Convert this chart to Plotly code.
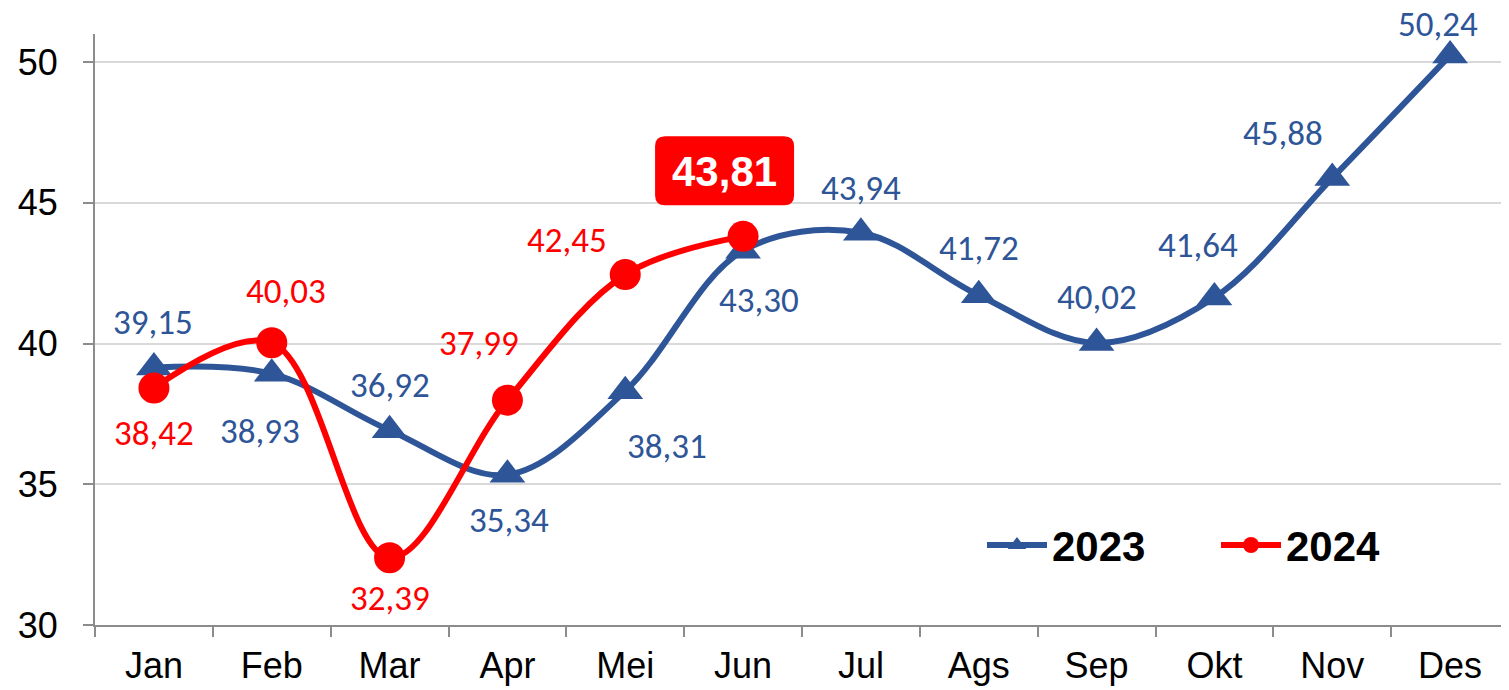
import plotly.graph_objects as go

months = ["Jan", "Feb", "Mar", "Apr", "Mei", "Jun", "Jul", "Ags", "Sep", "Okt", "Nov", "Des"]
vals_2023 = [39.15, 38.93, 36.92, 35.34, 38.31, 43.30, 43.94, 41.72, 40.02, 41.64, 45.88, 50.24]
months_2024 = ["Jan", "Feb", "Mar", "Apr", "Mei", "Jun"]
vals_2024 = [38.42, 40.03, 32.39, 37.99, 42.45, 43.81]
y_ticks = [30, 35, 40, 45, 50]

# label offsets in pixels (layout only)
off_2023 = [(-1, 45), (-12, -57), (0, 45), (2, -45), (42, -55), (16, -49),
            (0, 45), (0, 47), (0, 46), (-16, 52), (-49, 45), (-12, 31)]
off_2024 = [(0, -45), (14, 52), (0, -40), (-28, 57), (-58, 35), (-19, 65)]

BLUE = "#2E5597"
RED = "#FF0000"

def fmt(v):
    return f"{v:.2f}".replace(".", ",")

fig = go.Figure()
fig.add_trace(go.Scatter(
    x=months, y=vals_2023, name="2023", mode="lines+markers",
    line=dict(color=BLUE, width=6, shape="spline", smoothing=1.0),
    marker=dict(symbol="triangle-up", size=31, color=BLUE),
))
fig.add_trace(go.Scatter(
    x=months_2024, y=vals_2024, name="2024", mode="lines+markers",
    line=dict(color=RED, width=6, shape="spline", smoothing=1.0),
    marker=dict(symbol="circle", size=31, color=RED),
))

label_font = "Carlito, Lato, sans-serif"
annotations = []
for m, v, (dx, dy) in zip(months, vals_2023, off_2023):
    annotations.append(dict(x=m, y=v, xref="x", yref="y", text=fmt(v), showarrow=False,
                            xshift=dx, yshift=dy,
                            font=dict(family=label_font, size=35, color=BLUE)))
for i, (m, v, (dx, dy)) in enumerate(zip(months_2024, vals_2024, off_2024)):
    if i == len(vals_2024) - 1:
        annotations.append(dict(x=m, y=v, xref="x", yref="y", text="<b>" + fmt(v) + "</b>",
                                showarrow=False, xshift=dx, yshift=dy,
                                font=dict(family="Liberation Sans, Arial", size=42, color="white")))
    else:
        annotations.append(dict(x=m, y=v, xref="x", yref="y", text=fmt(v), showarrow=False,
                                xshift=dx, yshift=dy,
                                font=dict(family=label_font, size=35, color=RED)))

# rounded red box behind the last 2024 label
bx0, bx1, by0, by1, r = -88, 51, 31, 100, 10
path = (f"M{bx0+r},{by0} L{bx1-r},{by0} Q{bx1},{by0} {bx1},{by0+r} "
        f"L{bx1},{by1-r} Q{bx1},{by1} {bx1-r},{by1} L{bx0+r},{by1} "
        f"Q{bx0},{by1} {bx0},{by1-r} L{bx0},{by0+r} Q{bx0},{by0} {bx0+r},{by0} Z")
shapes = [dict(type="path", xref="x", yref="y", xsizemode="pixel", ysizemode="pixel",
               xanchor=months.index(months_2024[-1]), yanchor=vals_2024[-1],
               path=path, fillcolor=RED, line=dict(width=0), layer="above")]

fig.update_layout(
    width=1509, height=690,
    margin=dict(l=87, r=8, t=26, b=73),
    plot_bgcolor="white", paper_bgcolor="white",
    font=dict(family="Liberation Sans, Arial", color="black"),
    showlegend=True,
    legend=dict(orientation="h", x=0.6273, y=0.135, xanchor="left", yanchor="middle",
                font=dict(size=42, color="black", family="Liberation Sans, Arial", weight="bold"),
                itemwidth=60, entrywidth=159, entrywidthmode="pixels",
                bgcolor="rgba(0,0,0,0)", traceorder="normal"),
    annotations=annotations,
    shapes=shapes,
    xaxis=dict(type="category", categoryorder="array", categoryarray=months,
               range=[-0.5, 11.5], tickson="boundaries", ticks="outside", ticklen=10,
               tickcolor="#8C8C8C", tickwidth=2, showline=True, linecolor="#8C8C8C",
               linewidth=2, showgrid=False, tickfont=dict(size=36, color="black"),
               ticklabelstandoff=8, zeroline=False),
    yaxis=dict(range=[30, 51], tickvals=y_ticks, ticks="outside", ticklen=10,
               tickcolor="#8C8C8C", tickwidth=2, showline=True, linecolor="#8C8C8C",
               linewidth=2, gridcolor="#D9D9D9", gridwidth=2, ticklabelstandoff=18,
               tickfont=dict(size=36, color="black"), zeroline=False),
)

fig.write_html("out.html")
